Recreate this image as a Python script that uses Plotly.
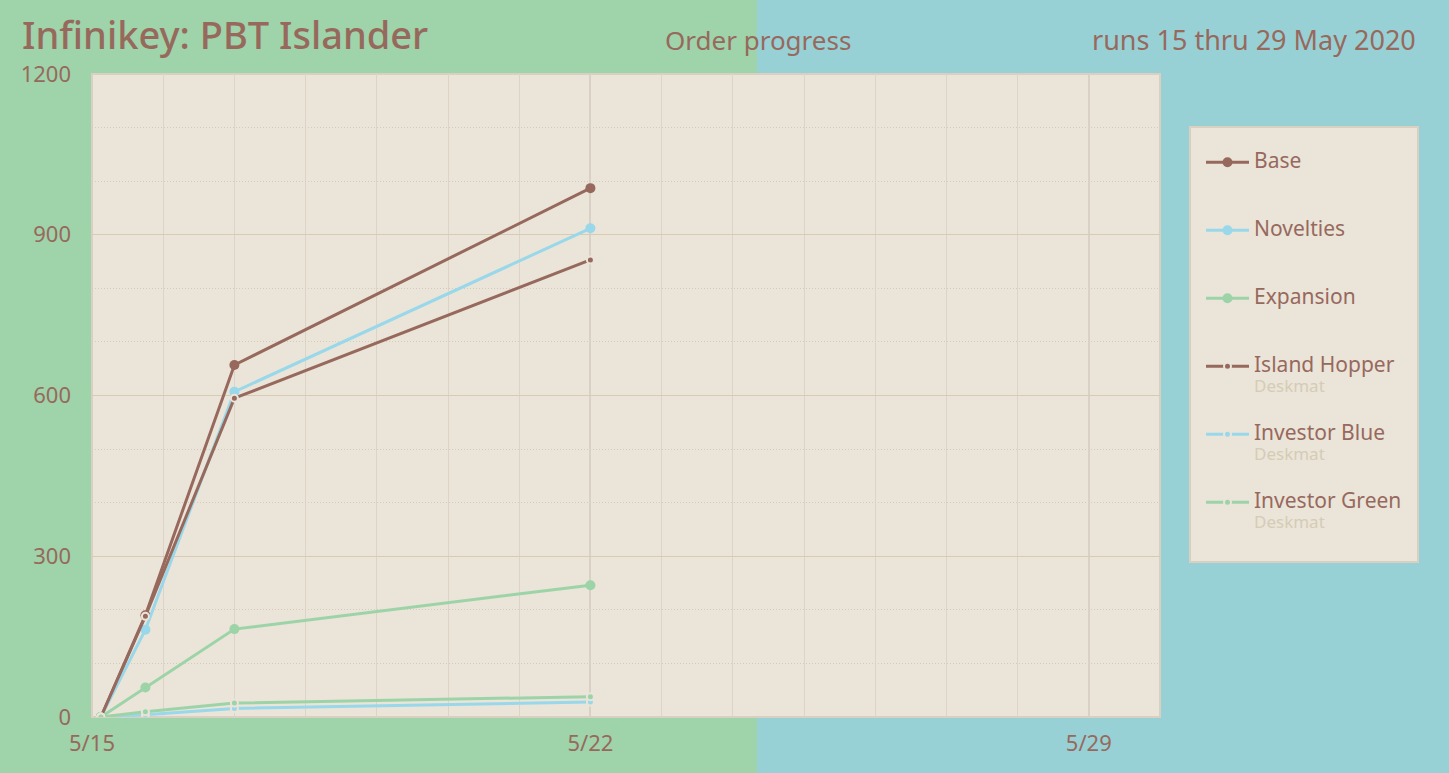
import plotly.graph_objects as go

# ---- data ----
times = ["2020-05-15 03:00", "2020-05-15 18:00", "2020-05-17 00:00", "2020-05-22 00:00"]
base = [0, 190, 657, 987]
novelties = [0, 163, 607, 912]
expansion = [0, 55, 164, 246]
island_hopper = [0, 188, 595, 853]
investor_blue = [0, 4, 16, 28]
investor_green = [0, 10, 26, 38]

x_tick_vals = ["2020-05-15", "2020-05-22", "2020-05-29"]
x_tick_text = ["5/15", "5/22", "5/29"]
y_tick_vals = [0, 300, 600, 900, 1200]
y_tick_text = ["0", "300", "600", "900", "1200"]

# ---- styles ----
BROWN = "#97695d"
BLUE = "#98d8ea"
GREEN = "#9cd4a8"
LEFT_BG = "#9fd3a9"
RIGHT_BG = "#97d1d6"
PLOT_BG = "#ebe4d9"
SUB = "#d4ccb5"
BORDER = "#d9d0c2"
FONT = "Noto Sans"

W, H = 1449, 773
ML, MR, MT, MB = 92, 289, 74, 56
PW, PH = W - ML - MR, H - MT - MB


def px_x(p):
    return (p - ML) / PW


def px_y(p):
    return (H - MB - p) / PH


def main_name(n):
    return f'<span style="font-size:21px">{n}</span><br>\u00a0'


def desk_name(n):
    return (f'<span style="font-size:21px">{n}</span><br>'
            f'<span style="font-size:17px;color:{SUB}">Deskmat</span>')


fig = go.Figure()
series = [
    ("Base", base, BROWN, False),
    ("Novelties", novelties, BLUE, False),
    ("Expansion", expansion, GREEN, False),
    ("Island Hopper", island_hopper, BROWN, True),
    ("Investor Blue", investor_blue, BLUE, True),
    ("Investor Green", investor_green, GREEN, True),
]
for name, vals, col, desk in series:
    if desk:
        marker = dict(size=7, color=col, line=dict(color=PLOT_BG, width=2))
        nm = desk_name(name)
    else:
        marker = dict(size=10, color=col)
        nm = main_name(name)
    fig.add_trace(go.Scatter(
        x=times, y=vals, name=nm, mode="lines+markers",
        line=dict(color=col, width=3), marker=marker, legendgroup=name,
    ))

shapes = [
    dict(type="rect", xref="paper", yref="paper", x0=px_x(-20), x1=px_x(757),
         y0=px_y(H + 20), y1=px_y(-20), fillcolor=LEFT_BG, line=dict(width=0), layer="below"),
    dict(type="rect", xref="paper", yref="paper", x0=0, x1=1, y0=0, y1=1,
         fillcolor=PLOT_BG, line=dict(color=BORDER, width=2), layer="below"),
    dict(type="rect", xref="paper", yref="paper", x0=px_x(1190), x1=px_x(1418),
         y0=px_y(562), y1=px_y(127), fillcolor=PLOT_BG, line=dict(color=BORDER, width=2), layer="below"),
]

annotations = [
    dict(text="Infinikey: PBT Islander", xref="paper", yref="paper", x=px_x(20), y=px_y(34),
         xanchor="left", yanchor="middle", showarrow=False,
         font=dict(size=38, color=BROWN, family=FONT, weight=500)),
    dict(text="Order progress", xref="paper", yref="paper", x=px_x(758), y=px_y(40),
         xanchor="center", yanchor="middle", showarrow=False, font=dict(size=26, color=BROWN, family=FONT)),
    dict(text="runs 15 thru 29 May 2020", xref="paper", yref="paper", x=px_x(1418), y=px_y(40),
         xanchor="right", yanchor="middle", showarrow=False, font=dict(size=27, color=BROWN, family=FONT)),
]

fig.update_layout(
    width=W, height=H,
    margin=dict(l=ML, r=MR, t=MT, b=MB),
    paper_bgcolor=RIGHT_BG, plot_bgcolor="rgba(0,0,0,0)",
    font=dict(family=FONT, color=BROWN),
    shapes=shapes, annotations=annotations,
    showlegend=True,
    legend=dict(
        x=px_x(1201), y=px_y(146), xanchor="left", yanchor="top",
        bgcolor="rgba(0,0,0,0)", borderwidth=0,
        font=dict(size=15, color=BROWN, family=FONT),
        valign="top", traceorder="grouped", tracegroupgap=26, itemwidth=43,
    ),
    xaxis=dict(
        type="date", range=["2020-05-15", "2020-05-30"],
        tickvals=x_tick_vals, ticktext=x_tick_text,
        showgrid=True, gridcolor="#d9d1c5", gridwidth=2,
        minor=dict(dtick=86400000, tick0="2020-05-15", showgrid=True, gridcolor="#ddd4c7", gridwidth=1),
        tickfont=dict(size=22, color=BROWN, family=FONT),
        zeroline=False, showline=False, ticks="", ticklabelstandoff=11,
    ),
    yaxis=dict(
        range=[0, 1200], tickvals=y_tick_vals, ticktext=y_tick_text,
        showgrid=True, gridcolor="#d7cbb1", gridwidth=1,
        minor=dict(dtick=100, tick0=0, showgrid=True, gridcolor="#d4cbbd", griddash="1px,2px", gridwidth=1),
        tickfont=dict(size=22, color=BROWN, family=FONT),
        zeroline=False, showline=False, ticks="", ticklabelstandoff=20,
    ),
)

fig.write_html("out.html", config={"displayModeBar": False},
               post_script="document.body.style.margin='0';")
